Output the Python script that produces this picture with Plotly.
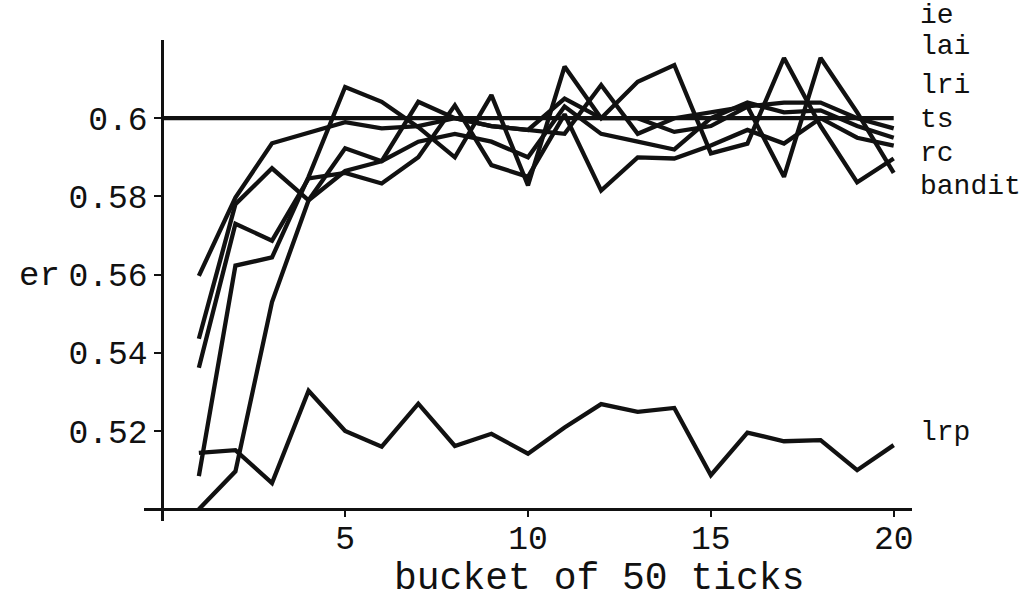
import plotly.graph_objects as go

buckets = list(range(1, 21))

series_a = [0.5597, 0.5797, 0.5936, 0.5964, 0.5990, 0.5974, 0.5980, 0.6000, 0.5980, 0.5970,
            0.6050, 0.6000, 0.6000, 0.5965, 0.5980, 0.6030, 0.6040, 0.6040, 0.6000, 0.5974]
series_b = [0.5436, 0.5780, 0.5872, 0.5790, 0.5923, 0.5890, 0.5940, 0.5960, 0.5940, 0.5900,
            0.6030, 0.5960, 0.5940, 0.5920, 0.6000, 0.6040, 0.6015, 0.6020, 0.5980, 0.5950]
series_c = [0.5362, 0.5730, 0.5687, 0.5846, 0.5860, 0.5833, 0.5900, 0.6033, 0.5880, 0.5850,
            0.6010, 0.5815, 0.5900, 0.5897, 0.5930, 0.5970, 0.5935, 0.6000, 0.5950, 0.5930]
series_d = [0.5085, 0.5623, 0.5644, 0.5850, 0.6080, 0.6042, 0.5977, 0.5900, 0.6059, 0.5828,
            0.6132, 0.6000, 0.6093, 0.6136, 0.5910, 0.5935, 0.6154, 0.5980, 0.5836, 0.5897]
series_e = [0.5000, 0.5097, 0.5530, 0.5790, 0.5865, 0.5890, 0.6042, 0.6000, 0.5980, 0.5970,
            0.5960, 0.6085, 0.5960, 0.6000, 0.6015, 0.6030, 0.5850, 0.6154, 0.6015, 0.5860]
series_lrp = [0.5144, 0.5151, 0.5067, 0.5303, 0.5200, 0.5160, 0.5270, 0.5162, 0.5193, 0.5142,
              0.5209, 0.5269, 0.5249, 0.5259, 0.5087, 0.5196, 0.5174, 0.5177, 0.5100, 0.5164]
target_x = [0, 20]
target_y = [0.6, 0.6]

x_tickvals = [5, 10, 15, 20]
x_ticktext = ["5", "10", "15", "20"]
y_tickvals = [0.52, 0.54, 0.56, 0.58, 0.6]
y_ticktext = ["0.52", "0.54", "0.56", "0.58", "0.6"]

label_names = ["ie", "lai", "lri", "ts", "rc", "bandit", "lrp"]
label_y = [0.6263, 0.6184, 0.6084, 0.5997, 0.5910, 0.5826, 0.5197]

FONT = "Liberation Mono, Courier New, monospace"
LW = 4.3
INK = "#111111"

xr = [-0.5, 20.5]
yr = [0.497, 0.62]


def px(v):
    return (v - xr[0]) / (xr[1] - xr[0])


def py(v):
    return (v - yr[0]) / (yr[1] - yr[0])


fig = go.Figure()
for ys in [series_a, series_b, series_c, series_d, series_e, series_lrp]:
    fig.add_trace(go.Scatter(x=buckets, y=ys, mode="lines",
                             line=dict(color=INK, width=LW), showlegend=False,
                             hoverinfo="skip"))
fig.add_trace(go.Scatter(x=target_x, y=target_y, mode="lines",
                         line=dict(color=INK, width=LW), showlegend=False,
                         hoverinfo="skip"))

for name, yv in zip(label_names, label_y):
    fig.add_annotation(x=px(20.67), y=py(yv), xref="paper", yref="paper", text=name,
                       showarrow=False, xanchor="left", yanchor="middle",
                       font=dict(family=FONT, size=28, color=INK))

fig.add_annotation(x=px(-3.35), y=py(0.5596), xref="paper", yref="paper", text="er",
                   showarrow=False, xanchor="center", yanchor="middle",
                   font=dict(family=FONT, size=34, color=INK))
fig.add_annotation(x=px(11.95), y=py(0.4824), xref="paper", yref="paper",
                   text="bucket of 50 ticks", showarrow=False,
                   xanchor="center", yanchor="middle",
                   font=dict(family=FONT, size=38, color=INK))

fig.update_layout(
    width=1026, height=599,
    margin=dict(l=144, r=114, t=40, b=78, autoexpand=False),
    paper_bgcolor="white", plot_bgcolor="white",
    xaxis=dict(range=xr, tickvals=x_tickvals, ticktext=x_ticktext, automargin=False,
               showgrid=False, zeroline=False, showline=True, linecolor=INK,
               linewidth=3, ticks="outside", ticklen=6, tickwidth=2, tickcolor=INK,
               ticklabelstandoff=-8,
               anchor="free", position=py(0.5),
               tickfont=dict(family=FONT, size=33, color=INK)),
    yaxis=dict(range=yr, tickvals=y_tickvals, ticktext=y_ticktext, automargin=False,
               showgrid=False, zeroline=False, showline=True, linecolor=INK,
               linewidth=3, ticks="outside", ticklen=7, tickwidth=2, tickcolor=INK,
               anchor="free", position=px(0),
               tickfont=dict(family=FONT, size=33, color=INK)),
)

fig.write_html("out.html",
               config={"displayModeBar": False},
               post_script="document.body.style.margin='0';document.body.style.padding='0';")
